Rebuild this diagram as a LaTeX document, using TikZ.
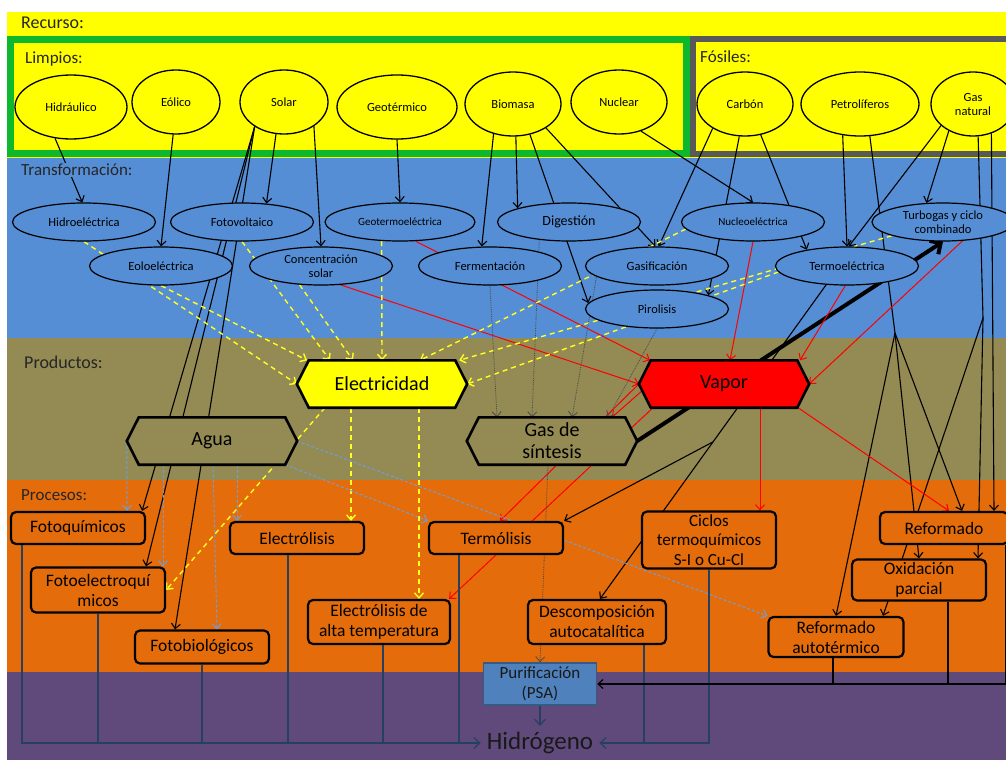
\documentclass[tikz,border=0pt]{standalone}
\usepackage{fontspec}
\setmainfont{Carlito}
\usepackage{xcolor}
\usepackage{tikz}
\usetikzlibrary{arrows.meta,positioning,shapes.geometric,calc}

\definecolor{bandYellow}{HTML}{FFFF00}
\definecolor{bandBlue}{HTML}{558ED5}
\definecolor{bandOlive}{HTML}{948A54}
\definecolor{bandOrange}{HTML}{E46C0A}
\definecolor{bandPurple}{HTML}{604A7B}
\definecolor{frameGreen}{HTML}{0DB82D}
\definecolor{frameGrey}{HTML}{595959}
\definecolor{psaBlue}{HTML}{4F81BD}
\definecolor{navyLine}{HTML}{254061}
\definecolor{waterLine}{HTML}{6F9FD8}
\definecolor{powerLine}{HTML}{FFFF20}
\definecolor{synLine}{HTML}{4A4A4A}

\pgfdeclarelayer{bands}
\pgfdeclarelayer{lines}
\pgfdeclarelayer{shapes}
\pgfsetlayers{bands,lines,shapes,main}

% hexagon behind a product node
\newcommand{\hexbox}[2]{%
  \begin{pgfonlayer}{shapes}
    \draw[line width=2.6pt, line join=miter, fill=#2] (#1.west) -- ([xshift=12pt]#1.north west) -- ([xshift=-12pt]#1.north east) -- (#1.east) -- ([xshift=-12pt]#1.south east) -- ([xshift=12pt]#1.south west) -- cycle;
  \end{pgfonlayer}}

\begin{document}
\begin{tikzpicture}[x=1pt, y=-1pt,
  res/.style={ellipse, draw, fill=bandYellow, line width=1.3pt, minimum height=64pt, inner sep=0pt, align=center, font=\fontsize{12.5}{14}\selectfont},
  trans/.style={ellipse, draw, fill=bandBlue, line width=1.2pt, minimum width=143pt, minimum height=38pt, inner sep=0pt, align=center, font=\fontsize{12.5}{13.5}\selectfont},
  prod/.style={minimum width=170pt, minimum height=47pt, inner sep=0pt, align=center, font=\fontsize{20}{22}\selectfont},
  proc/.style={draw, rounded corners=5pt, fill=bandOrange, line width=2.2pt, align=center, inner sep=0pt, minimum width=134pt, font=\fontsize{17.5}{20}\selectfont},
  band/.style={anchor=west, inner sep=1pt, text=black!85, font=\fontsize{18}{20}\selectfont},
  line/.style={draw=black, line width=1.1pt},
  blk/.style={line, -{Straight Barb[length=5pt,width=9pt]}},
  heavy/.style={draw=black, line width=4pt, -{Straight Barb[length=8pt,width=16pt]}},
  stm/.style={draw=red, line width=1pt, -{Straight Barb[length=5pt,width=9pt]}},
  pow/.style={draw=powerLine, line width=1.4pt, dash pattern=on 5pt off 4pt, -{Straight Barb[length=5pt,width=9pt]}},
  wat/.style={draw=waterLine, line width=1pt, dash pattern=on 3pt off 2pt, -{Straight Barb[length=5pt,width=9pt]}},
  syn/.style={draw=synLine, line width=0.8pt, densely dotted, -{Straight Barb[length=5pt,width=9pt]}},
  nav/.style={draw=navyLine, line width=1.2pt},
  navArr/.style={nav, -{Straight Barb[length=6pt,width=11pt]}}
]
\useasboundingbox (0,0) rectangle (1006,760);

% bands and frames
\begin{pgfonlayer}{bands}
  \fill[white] (0,0) rectangle (1006,760);
  \fill[bandYellow] (7,12) rectangle (1006,158);
  \fill[bandBlue] (7,158) rectangle (1006,338);
  \fill[bandOlive] (7,338) rectangle (1006,480);
  \fill[bandOrange] (7,480) rectangle (1006,672);
  \fill[bandPurple] (7,672) rectangle (1006,760);
  \draw[frameGreen, line width=7pt] (10.5,39.5) rectangle (686.5,153.5);
  \draw[frameGrey, line width=6pt] (693,39.5) rectangle (1012,153.5);
\end{pgfonlayer}

\node[band] (lRec) at (20,23) {Recurso:};
\node[band, font=\fontsize{17}{19}\selectfont] (lLim) at (24,59) {Limpios:};
\node[band, font=\fontsize{17}{19}\selectfont] (lFos) at (699,57) {Fósiles:};
\node[band, fill=bandBlue, font=\fontsize{17}{19}\selectfont] (lTra) at (20,170) {Transformación:};
\node[band] (lPro) at (23,362) {Productos:};
\node[band, font=\fontsize{17}{19}\selectfont] (lPrc) at (20,495) {Procesos:};

% recursos
\node[res, minimum width=112pt] (hidr) at (71,107) {Hidráulico};
\node[res, minimum width=88pt] (eol) at (176,102) {Eólico};
\node[res, minimum width=88pt] (sol) at (284,102) {Solar};
\node[res, minimum width=120pt] (geo) at (397,107) {Geotérmico};
\node[res, minimum width=96pt] (bio) at (513,104) {Biomasa};
\node[res, minimum width=96pt] (nuc) at (619,102) {Nuclear};
\node[res, minimum width=96pt] (car) at (745,104) {Carbón};
\node[res, minimum width=118pt] (pet) at (860,104) {Petrolíferos};
\node[res, minimum width=84pt] (gas) at (973,104) {Gas\\natural};

% transformacion
\node[trans] (hidroel) at (84,222) {Hidroeléctrica};
\node[trans] (fotov) at (242,222) {Fotovoltaico};
\node[trans, minimum width=150pt, font=\fontsize{11}{12}\selectfont] (geoel) at (400,222) {Geotermoeléctrica};
\node[trans, font=\fontsize{14}{15}\selectfont] (dig) at (569,222) {Digestión};
\node[trans, font=\fontsize{11}{12}\selectfont] (nucel) at (753,222) {Nucleoeléctrica};
\node[trans, minimum width=142pt] (turbo) at (943,222) {Turbogas y ciclo\\combinado};
\node[trans] (eolel) at (161,266) {Eoloeléctrica};
\node[trans] (conc) at (321,266) {Concentración\\solar};
\node[trans] (ferm) at (490,266) {Fermentación};
\node[trans] (gasif) at (657,266) {Gasificación};
\node[trans] (termo) at (847,266) {Termoeléctrica};
\node[trans] (piro) at (657,309) {Pirolisis};

% productos
\node[prod] (elec) at (382,384) {Electricidad};
\node[prod] (vap) at (724,384) {Vapor};
\node[prod] (agua) at (212,441) {Agua};
\node[prod] (sint) at (552,441) {Gas de\\síntesis};
\hexbox{elec}{bandYellow}
\hexbox{vap}{red}
\hexbox{agua}{bandOlive}
\hexbox{sint}{bandOlive}

% procesos
\node[proc, minimum height=32pt] (fotoq) at (78,528) {Fotoquímicos};
\node[proc, minimum height=32pt] (electr) at (297,538) {Electrólisis};
\node[proc, minimum height=32pt] (termol) at (496,538) {Termólisis};
\node[proc, minimum height=57pt, font=\fontsize{17}{19.5}\selectfont] (ciclos) at (709,540) {Ciclos\\termoquímicos\\S-I o Cu-Cl};
\node[proc, minimum height=32pt, minimum width=128pt] (reform) at (944,528) {Reformado};
\node[proc, minimum height=45pt] (fotoel) at (98,590) {Fotoelectroquí\\micos};
\node[proc, minimum height=44pt, minimum width=142pt] (eat) at (379,622) {Electrólisis de\\alta temperatura};
\node[proc, minimum height=41pt] (oxid) at (919,580) {Oxidación\\parcial};
\node[proc, minimum height=44pt, minimum width=138pt] (desc) at (597,622) {Descomposición\\autocatalítica};
\node[proc, minimum height=40pt, minimum width=135pt] (reauto) at (836,637) {Reformado\\autotérmico};
\node[proc, minimum height=33pt] (fotob) at (202,647) {Fotobiológicos};
\node[draw=psaBlue!70!black, fill=psaBlue, line width=1.5pt, minimum width=113pt, minimum height=42pt, inner sep=0pt, align=center, text=black!90, font=\fontsize{17}{20}\selectfont] (psa) at (540,684) {Purificación\\(PSA)};
\node[inner sep=6pt, text=black!90, font=\fontsize{25}{27}\selectfont] (h2) at (540,743) {Hidrógeno};

\coordinate (petFan) at (895,333);
\coordinate (gasFan) at (983,318);

\begin{pgfonlayer}{lines}
  % recurso -> transformacion
  \draw[blk] (hidr.243) -- (hidroel.95);
  \draw[blk] (eol.265) -- (eolel.north);
  \draw[blk] (sol.256) -- (fotov.37);
  \draw[blk] (sol.321) -- (conc.north);
  \draw[blk] (sol.220) -- ([xshift=-4pt]fotoq.north east);
  \draw[blk] (sol.220) -- ([xshift=48pt]fotoel.north);
  \draw[blk] (sol.220) -- ([xshift=-27pt]fotob.north);
  \draw[blk] (geo.south) -- (geoel.north);
  \draw[blk] (bio.237) -- (ferm.113);
  \draw[blk] (bio.275) -- (dig.165);
  \draw[blk] (bio.299) -- (piro.175);
  \draw[blk] (bio.324) -- (gasif.95);
  \draw[blk] (nuc.307) -- (nucel.north);
  \draw[blk] (car.217) -- (gasif.85);
  \draw[blk] (car.260) -- (piro.15);
  \draw[blk] (car.297) -- (termo.158);
  \draw[blk] (pet.241) -- (termo.north);
  \draw[line] (pet.287) -- (petFan);
  \draw[blk] (petFan) -- ([xshift=18pt]reform.north);
  \draw[blk] (petFan) -- (oxid.north);
  \draw[blk] (petFan) -- (reauto.north);
  \draw[blk] (gas.228) -- (turbo.131);
  \draw[blk] (gas.214) -- (termo.85);
  \draw[blk] (gas.302) -- ([xshift=50pt]reform.north);
  \draw[line] (gas.279) -- (gasFan);
  \draw[blk] (gasFan) -- ([xshift=59pt]oxid.north);
  \draw[blk] (gasFan) -- ([xshift=47pt]reauto.north);
  \draw[blk] (termo.222) -- ([xshift=3pt]desc.north);
  \coordinate (brT) at ($(termo.222)!0.5!([xshift=3pt]desc.north)$);
  \draw[blk] (brT) -- (termol.north east);
  \draw[heavy] (sint.east) -- (turbo.south);

  % vapor
  \draw[stm] (geoel.309) -- ([xshift=-74pt]vap.north);
  \draw[stm] (conc.316) -- (vap.west);
  \draw[stm] (nucel.south) -- ([xshift=6pt]vap.north);
  \draw[stm] (termo.265) -- ([xshift=76pt]vap.north);
  \draw[stm] (turbo.316) -- (vap.east);
  \draw[stm] ([xshift=3pt,yshift=-7pt]vap.west) -- ([xshift=60pt]sint.north);
  \draw[stm] (vap.west) -- ([xshift=4pt]termol.north);
  \draw[stm] ([xshift=-71pt]vap.south) -- ([xshift=-2pt]eat.north east);
  \draw[stm] ([xshift=36pt]vap.south) -- ([xshift=51pt]ciclos.north);
  \draw[stm] ([xshift=74pt]vap.south) -- ([xshift=5pt]reform.north);

  % electricidad
  \draw[pow] (hidroel.south) -- (elec.west);
  \draw[pow] (eolel.south) -- ([xshift=-75pt]elec.north);
  \draw[pow] (fotov.south) -- ([xshift=-52pt]elec.north);
  \draw[pow] (conc.221) -- ([xshift=-29pt]elec.north);
  \draw[pow] (geoel.226) -- (elec.north);
  \draw[pow] (nucel.186) -- ([xshift=38pt]elec.north);
  \draw[pow] (turbo.195) -- ([xshift=-8pt]elec.north east);
  \draw[pow] (termo.185) -- (elec.east);
  \draw[pow] ([xshift=-57pt]elec.south) -- (fotoel.east);
  \draw[pow] ([xshift=-31pt]elec.south) -- ([xshift=54pt]electr.north);
  \draw[pow] ([xshift=37pt]elec.south) -- ([xshift=40pt]eat.north);

  % gas de sintesis
  \draw[syn] (ferm.south) -- ([xshift=-55pt]sint.north);
  \draw[syn] (dig.211) -- ([xshift=-20pt]sint.north);
  \draw[syn] (gasif.190) -- ([xshift=20pt]sint.north);
  \draw[syn] (piro.south) -- ([xshift=56pt]sint.north);
  \draw[syn] ([xshift=-4pt]sint.south) -- (psa.north);

  % agua
  \draw[wat] (agua.west) -- ([xshift=49pt]fotoq.north);
  \draw[wat] ([xshift=-49pt]agua.south) -- ([xshift=65pt]fotoel.north);
  \draw[wat] ([xshift=1pt]agua.south) -- ([xshift=15pt]fotob.north);
  \draw[wat] ([xshift=25pt]agua.south) -- ([xshift=-60pt]electr.north);
  \draw[wat] ([xshift=-12pt]agua.south east) -- (termol.north west);
  \draw[wat] (agua.east) -- (reauto.north west);

  % hidrogeno
  \draw[navArr] ([xshift=-56pt]fotoq.south) |- (h2.west);
  \draw[nav] (fotoel.south) -- (fotoel.south |- h2.west);
  \draw[nav] (fotob.south) -- (fotob.south |- h2.west);
  \draw[nav] ([xshift=-9pt]electr.south) -- ++(0,189);
  \draw[nav] ([xshift=4pt]eat.south) -- ++(0,99);
  \draw[nav] ([xshift=-37pt]termol.south) -- ++(0,189);
  \draw[navArr] (ciclos.south) |- (h2.east);
  \draw[nav] ([xshift=47pt]desc.south) -- ++(0,99);
  \draw[navArr] (psa.south) -- (h2.north);
  \draw[blk] ([xshift=-4pt]reform.south east) |- (psa.east);
  \draw[line] ([xshift=-3pt]reauto.south) -- ++(0,27);
  \draw[line] ([xshift=29pt]oxid.south) -- ++(0,83);
\end{pgfonlayer}
\end{tikzpicture}
\end{document}
